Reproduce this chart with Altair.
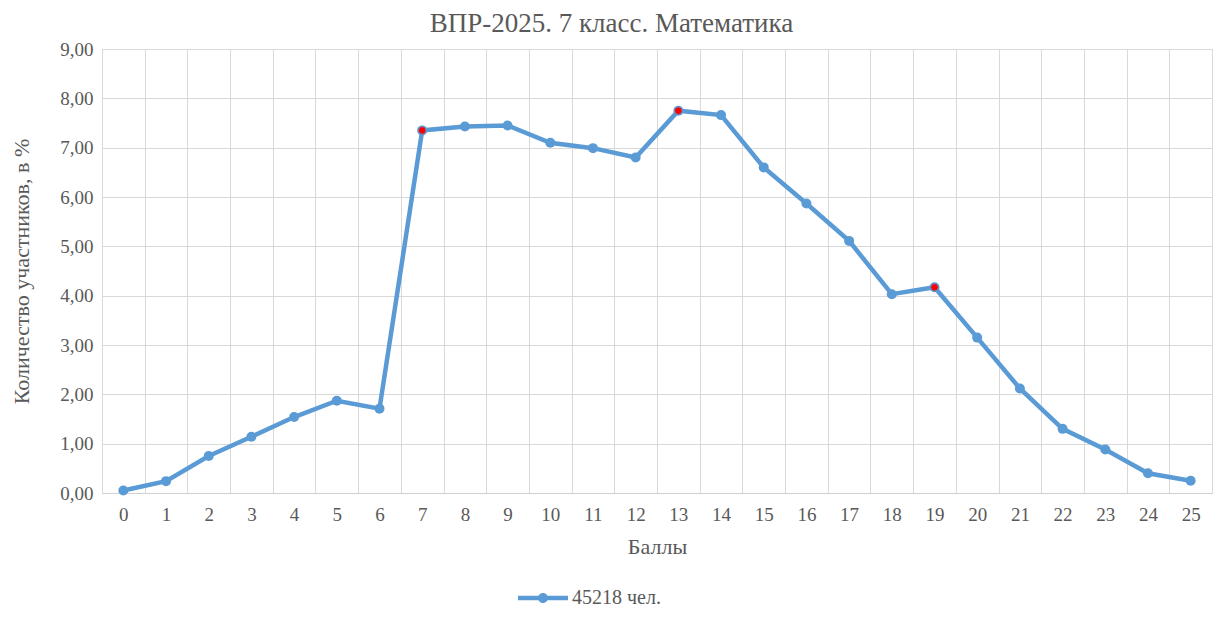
import altair as alt
import pandas as pd

scores = list(range(26))
percent = [0.05, 0.24, 0.75, 1.14, 1.54, 1.87, 1.71, 7.35, 7.43, 7.45,
           7.10, 6.99, 6.80, 7.75, 7.66, 6.60, 5.87, 5.11, 4.03, 4.17,
           3.15, 2.12, 1.30, 0.88, 0.40, 0.25]
highlighted = [7, 13, 19]
series_name = "45218 чел."
title_text = "ВПР-2025. 7 класс. Математика"
x_title = "Баллы"
y_title = "Количество участников, в %"

df = pd.DataFrame({
    "score": [str(s) for s in scores],
    "pct": percent,
    "series": series_name,
    "hl": [s in highlighted for s in scores],
})

FONT = "Times New Roman, Liberation Serif, DejaVu Serif, serif"
GREY = "#595959"
BLUE = "#5B9BD5"
order = [str(s) for s in scores]

x_enc = alt.X("score:N", sort=order, title=x_title,
              scale=alt.Scale(type="band", paddingInner=0, paddingOuter=0),
              axis=alt.Axis(tickBand="extent", grid=True, labelAngle=0,
                            ticks=False, labelPadding=12, titlePadding=12,
                            domainColor="#d0d0d0"))
y_enc = alt.Y("pct:Q", title=y_title,
              scale=alt.Scale(domain=[0, 9], nice=False),
              axis=alt.Axis(values=list(range(10)), ticks=False, domain=False,
                            labelExpr="replace(format(datum.value, '.2f'), '.', ',')",
                            labelPadding=9, titlePadding=26))

legend_symbol = ("M-1,-0.09H1V0.09H-1Z "
                 "M0.2,0A0.2,0.2 0 1,1 -0.2,0A0.2,0.2 0 1,1 0.2,0Z")

line = alt.Chart(df).mark_line(strokeWidth=4.5).encode(
    x=x_enc, y=y_enc,
    color=alt.Color("series:N", scale=alt.Scale(range=[BLUE]),
                    legend=alt.Legend(title=None, orient="none",
                                      legendX=416, legendY=524,
                                      symbolType=legend_symbol,
                                      symbolSize=2500, symbolStrokeWidth=0,
                                      symbolFillColor=BLUE,
                                      labelFontSize=20, labelColor=GREY,
                                      labelFont=FONT, labelOffset=4)),
)
pts = alt.Chart(df).mark_circle(size=100, opacity=1, color=BLUE).encode(
    x=x_enc, y=y_enc)
red = alt.Chart(df).transform_filter("datum.hl").mark_point(
    filled=True, size=60, opacity=1, fill="#FF0000", stroke=BLUE,
    strokeWidth=1).encode(x=x_enc, y=y_enc)

chart = alt.layer(line, pts, red).properties(
    width=1110, height=444,
    title=alt.Title(title_text, fontSize=27, font=FONT, color=GREY,
                    fontWeight="normal", anchor="middle", frame="bounds",
                    offset=2),
    autosize=alt.AutoSizeParams(type="none"),
    padding={"left": 94, "top": 41, "right": 1, "bottom": 118},
).configure_view(stroke="#d9d9d9", strokeWidth=1).configure_axis(
    labelFont=FONT, titleFont=FONT, labelFontSize=19, titleFontSize=22,
    labelColor=GREY, titleColor=GREY, titleFontWeight="normal",
    gridColor="#d9d9d9", gridWidth=1,
)

chart.save("out.html", embed_options={"renderer": "svg", "actions": False})
